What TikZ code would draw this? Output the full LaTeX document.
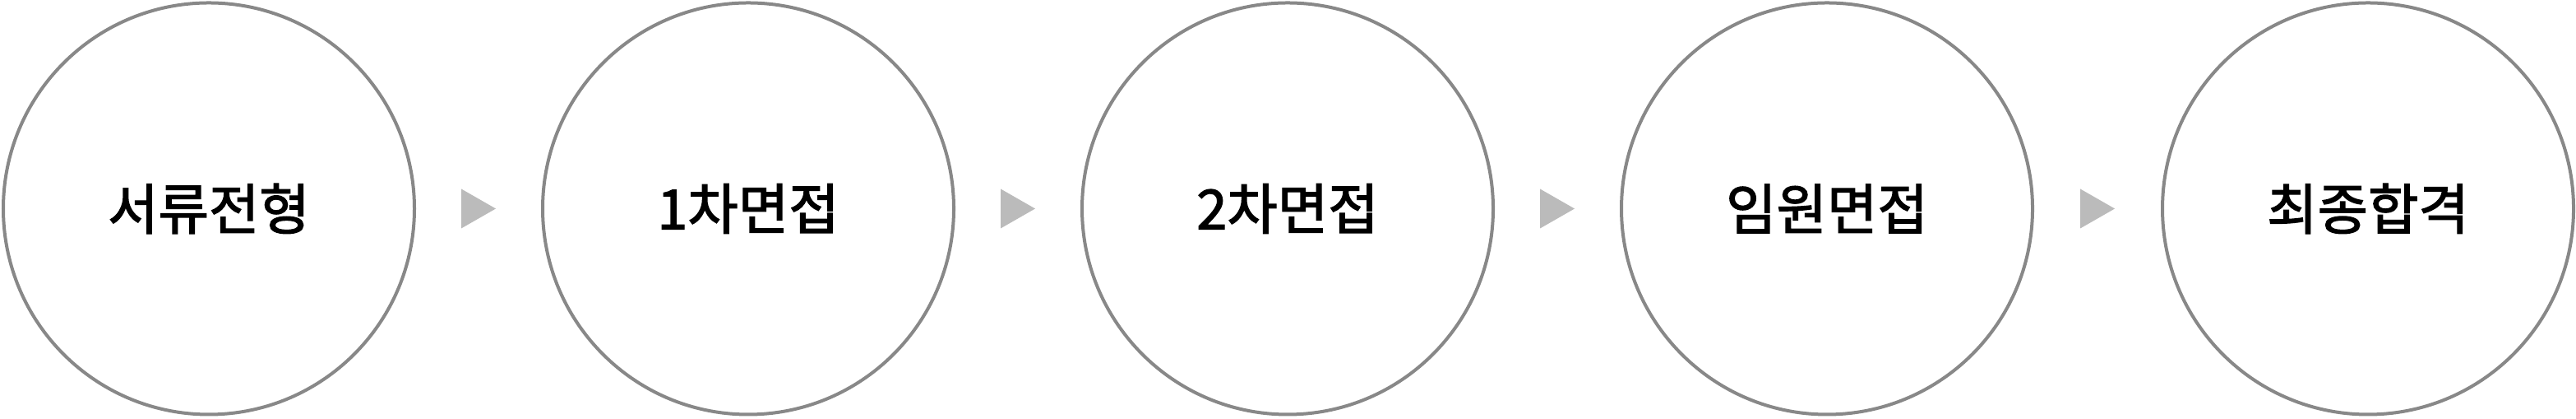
\documentclass[tikz,border=0pt]{standalone}
\usepackage{fontspec}
\usepackage{xcolor}
\usepackage{tikz}
\usetikzlibrary{calc}
\newfontfamily\kor{Noto Sans CJK KR}[FakeBold=2]
\definecolor{ringgray}{HTML}{888888}
\definecolor{triggray}{HTML}{BBBBBB}

\begin{document}
\begin{tikzpicture}[stage/.style = {draw = ringgray, line width = 0.04cm, shape = circle, minimum size = 5cm, inner sep = 0pt, font = \kor\fontsize{19}{23}\selectfont}]
	\useasboundingbox (0, 0) rectangle (31.33, 5.09);
	\foreach \x/\name/\txt in {2.54/s1/서류전형, 9.10/s2/1차면접, 15.66/s3/2차면접, 22.22/s4/임원면접, 28.80/s5/최종합격}{
		\node[stage] (\name) at (\x, 2.555) {\txt};}
	\foreach \a/\b in {s1/s2, s2/s3, s3/s4, s4/s5}{
		\coordinate (m\a) at ($(\a)!0.5!(\b)$);
		\fill[triggray] ($(m\a) + (-0.21, 0.24)$) -- ($(m\a) + (0.21, 0)$) -- ($(m\a) + (-0.21, -0.24)$) -- cycle;}
\end{tikzpicture}
\end{document}
